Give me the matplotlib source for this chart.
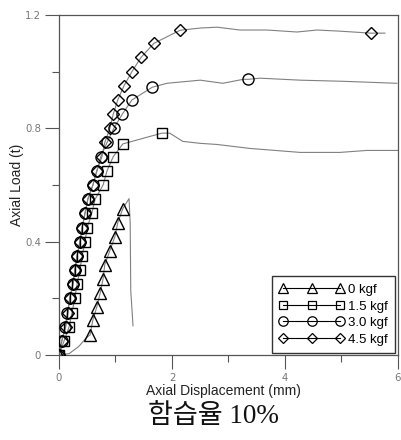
import matplotlib
matplotlib.use("Agg")
import matplotlib.pyplot as plt
from matplotlib.ticker import MultipleLocator

# ---- data (displacement mm, load t) ----
disp_0 = [0.00, 0.18, 0.35, 0.48, 0.55, 0.60, 0.67, 0.73, 0.78, 0.81, 0.90, 0.99, 1.04, 1.13, 1.24, 1.26, 1.27, 1.31]
load_0 = [0.00, 0.005, 0.03, 0.06, 0.071, 0.124, 0.17, 0.22, 0.269, 0.319, 0.368, 0.418, 0.467, 0.517, 0.552, 0.464, 0.227, 0.103]
mark_0 = [0, 4, 5, 6, 7, 8, 9, 10, 11, 12, 13]

disp_15 = [0.00, 0.09, 0.18, 0.23, 0.28, 0.32, 0.37, 0.41, 0.46, 0.50, 0.58, 0.64, 0.78, 0.85, 0.96, 1.13, 1.82,
           1.96, 2.19, 2.50, 2.80, 3.38, 4.27, 4.97, 5.45, 6.00]
load_15 = [0.00, 0.05, 0.10, 0.15, 0.20, 0.25, 0.30, 0.35, 0.40, 0.45, 0.50, 0.55, 0.60, 0.65, 0.70, 0.745, 0.783,
           0.783, 0.754, 0.747, 0.743, 0.729, 0.715, 0.715, 0.722, 0.722]
mark_15 = list(range(17))

disp_30 = [0.00, 0.05, 0.11, 0.15, 0.19, 0.24, 0.28, 0.32, 0.37, 0.41, 0.46, 0.51, 0.60, 0.67, 0.74, 0.85, 0.97,
           1.12, 1.29, 1.65, 1.91, 2.50, 2.90, 3.26, 3.35, 3.56, 4.27, 5.03, 5.98]
load_30 = [0.00, 0.05, 0.10, 0.15, 0.20, 0.25, 0.30, 0.35, 0.40, 0.45, 0.50, 0.55, 0.60, 0.65, 0.70, 0.75, 0.80,
           0.85, 0.90, 0.945, 0.959, 0.970, 0.959, 0.973, 0.973, 0.977, 0.970, 0.966, 0.959]
mark_30 = list(range(20)) + [24]

disp_45 = [0.00, 0.05, 0.12, 0.16, 0.19, 0.25, 0.28, 0.32, 0.37, 0.41, 0.46, 0.51, 0.60, 0.67, 0.76, 0.81, 0.90,
           0.96, 1.04, 1.15, 1.29, 1.45, 1.68, 2.14, 2.50, 2.80, 3.20, 3.68, 4.21, 4.57, 4.97, 5.52, 5.77]
load_45 = [0.00, 0.05, 0.10, 0.15, 0.20, 0.25, 0.30, 0.35, 0.40, 0.45, 0.50, 0.55, 0.60, 0.65, 0.70, 0.75, 0.80,
           0.85, 0.90, 0.95, 1.00, 1.05, 1.10, 1.146, 1.154, 1.157, 1.147, 1.147, 1.140, 1.147, 1.143, 1.136, 1.136]
mark_45 = list(range(24)) + [31]

labels = ["0 kgf", "1.5 kgf", "3.0 kgf", "4.5 kgf"]
x_ticks = [0, 2, 4, 6]
y_ticks = [0, 0.4, 0.8, 1.2]
y_ticklabels = ["0", "0.4", "0.8", "1.2"]
title_text = "함습율 10%"

# ---- figure ----
fig = plt.figure(figsize=(4.01, 4.40), dpi=100)
ax = fig.add_axes([59 / 401, 85 / 440, 339 / 401, 340 / 440])

series = [(disp_0, load_0, mark_0, "^", 8),
          (disp_15, load_15, mark_15, "s", 7.5),
          (disp_30, load_30, mark_30, "o", 8),
          (disp_45, load_45, mark_45, "D", 6.3)]

for (d, l, m, mk, ms), lab in zip(series, labels):
    ax.plot(d, l, color="#808080", lw=0.8, zorder=2)
    ax.plot([d[i] for i in m], [l[i] for i in m], linestyle="none", marker=mk,
            markersize=ms, markerfacecolor="none", markeredgecolor="black",
            markeredgewidth=1.0, zorder=3)
    # legend proxy
    ax.plot([], [], color="black", lw=0.8, marker=mk, markersize=ms * 0.85,
            markerfacecolor="none", markeredgecolor="black", markeredgewidth=0.9,
            label=lab)

ax.set_xlim(0, 6)
ax.set_ylim(0, 1.2)
ax.set_xticks(x_ticks)
ax.set_yticks(y_ticks)
ax.set_yticklabels(y_ticklabels)
ax.xaxis.set_minor_locator(MultipleLocator(1))
ax.yaxis.set_minor_locator(MultipleLocator(0.2))
ax.tick_params(which="major", direction="out", length=10, width=0.8, color="#555555",
               labelsize=7.3, labelcolor="#777777", pad=3)
ax.tick_params(which="minor", direction="out", length=5, width=0.8, color="#555555")
for s in ax.spines.values():
    s.set_color("#555555")
    s.set_linewidth(0.9)

lab_font = dict(family="Liberation Sans", size=10, color="#222222")
ax.set_xlabel("Axial Displacement (mm)", **lab_font)
ax.set_ylabel("Axial Load (t)", **lab_font)
ax.xaxis.set_label_coords((223 - 59) / 339, (355 - 384) / 340)
ax.yaxis.set_label_coords((24 - 59) / 339, 0.5)

leg = ax.legend(loc="lower right", bbox_to_anchor=(0.991, 0.006), borderaxespad=0,
                numpoints=3, handlelength=4.9, fancybox=False, framealpha=1,
                edgecolor="#333333", prop={"family": "Liberation Sans", "size": 9.5},
                labelspacing=0.33, handletextpad=0.3, borderpad=0.55)
leg.get_frame().set_linewidth(1.0)

fig.text(213 / 401, 1 - 416 / 440, title_text, ha="center", va="center", fontsize=19.5,
         family=["Liberation Serif", "Noto Sans CJK KR"], color="#111111")

fig.savefig("out.png", dpi=100)
